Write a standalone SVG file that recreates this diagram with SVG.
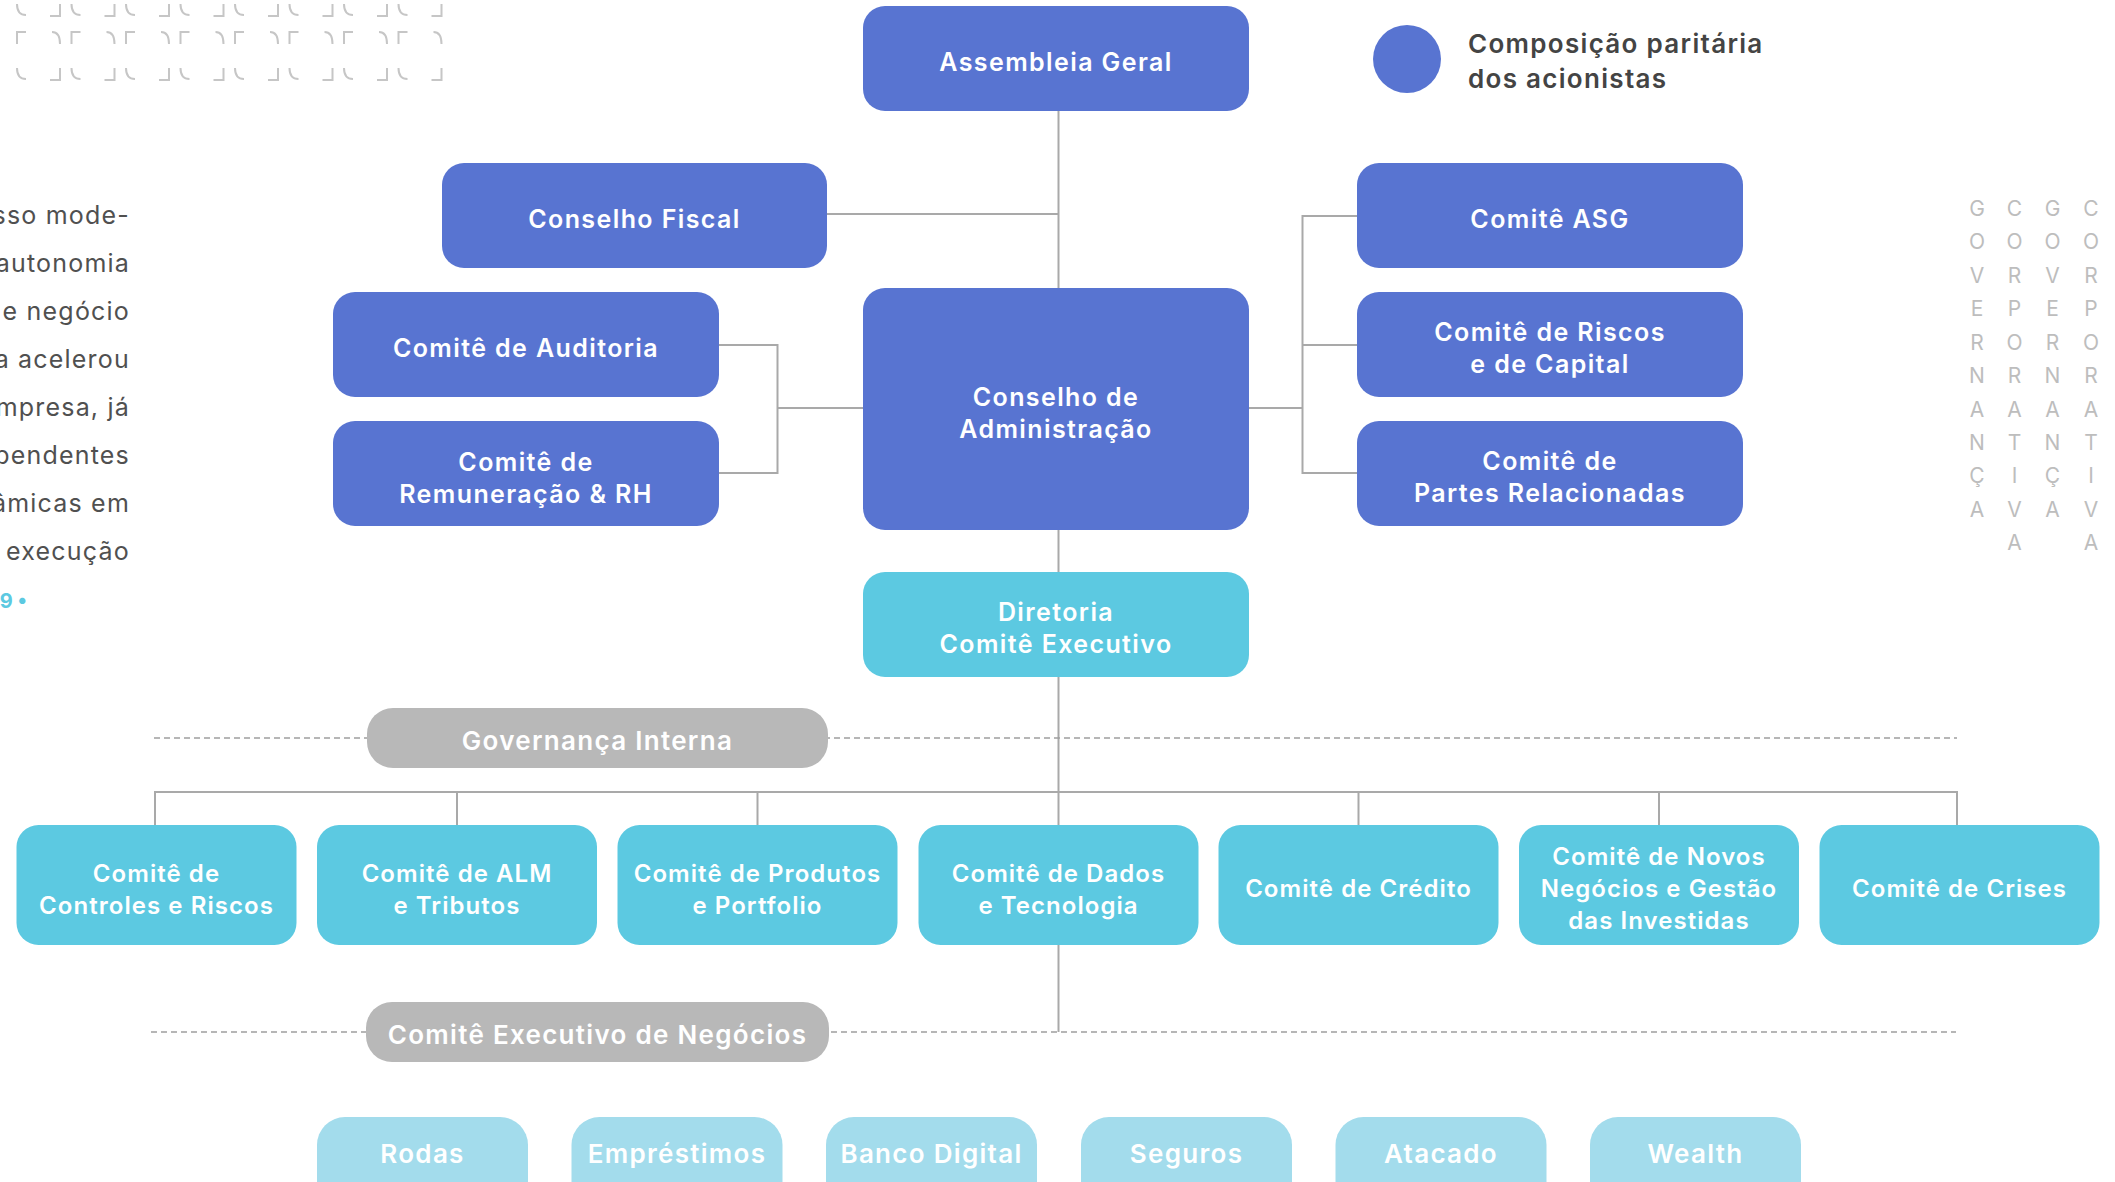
<svg xmlns="http://www.w3.org/2000/svg" xmlns:xlink="http://www.w3.org/1999/xlink" width="2115" height="1182" viewBox="0 0 2115 1182">
<style>
.bx{fill:#5874D1}
.tl{fill:#5CC9E1}
.lt{fill:#A3DCEC}
.gp{fill:#B8B8B8}
.t{font-family:Inter,"Open Sans","Liberation Sans",sans-serif;font-weight:600;fill:#FFFFFF;text-anchor:middle;font-size:25px;letter-spacing:1.4px}
.t2{font-family:Inter,"Open Sans","Liberation Sans",sans-serif;font-weight:600;fill:#FFFFFF;text-anchor:middle;font-size:24px;letter-spacing:1.05px}
.t3{font-family:Inter,"Open Sans","Liberation Sans",sans-serif;font-weight:600;fill:#FFFFFF;text-anchor:middle;font-size:26px;letter-spacing:1.3px}
.leg{font-family:Inter,"Open Sans","Liberation Sans",sans-serif;font-weight:600;fill:#444444;font-size:26px;letter-spacing:1.3px}
.body{font-family:Inter,"Open Sans","Liberation Sans",sans-serif;font-weight:400;fill:#505050;font-size:25px;text-anchor:end;letter-spacing:1.2px}
.vl{font-family:Inter,"Open Sans","Liberation Sans",sans-serif;font-weight:400;fill:#BDBDBD;font-size:21px;text-anchor:middle}
.ln{fill:none;stroke:#A9A9A9;stroke-width:2}
.ds{fill:none;stroke:#9E9E9E;stroke-width:1.6;stroke-dasharray:6 4}
.pt{fill:none;stroke:#C6C6C6;stroke-width:2}
</style>
<defs>
<g id="unit">
<path class="pt" d="M0,4 Q0,15 9,15"/>
<path class="pt" d="M33,16 H43 V4"/>
<path class="pt" d="M0,44 V32 H9"/>
<path class="pt" d="M35,32 Q43,32 43,44"/>
<path class="pt" d="M0,68 Q0,79 9,79"/>
<path class="pt" d="M33,80 H43 V68"/>
</g>
</defs>
<rect x="0" y="0" width="2115" height="1182" fill="#FFFFFF"/>

<g id="pattern">
<use xlink:href="#unit" href="#unit" x="17" y="0"/>
<use xlink:href="#unit" href="#unit" x="71.5" y="0"/>
<use xlink:href="#unit" href="#unit" x="126" y="0"/>
<use xlink:href="#unit" href="#unit" x="180.5" y="0"/>
<use xlink:href="#unit" href="#unit" x="235" y="0"/>
<use xlink:href="#unit" href="#unit" x="289.5" y="0"/>
<use xlink:href="#unit" href="#unit" x="344" y="0"/>
<use xlink:href="#unit" href="#unit" x="398.5" y="0"/>
</g>

<g id="body-text">
<text class="body" x="130" y="224">sso mode-</text>
<text class="body" x="130" y="272">autonomia</text>
<text class="body" x="130" y="320">e negócio</text>
<text class="body" x="130" y="368">a acelerou</text>
<text class="body" x="130" y="416">mpresa, já</text>
<text class="body" x="130" y="464">pendentes</text>
<text class="body" x="130" y="512">âmicas em</text>
<text class="body" x="130" y="560">execução</text>
<text x="27" y="608" style="font-family:Inter,'Liberation Sans',sans-serif;font-weight:700;font-size:20px;fill:#5CC9E1;text-anchor:end">9 •</text>
</g>

<g id="vertical-text">
<text class="vl" x="1977" y="216">G</text><text class="vl" x="1977" y="249">O</text><text class="vl" x="1977" y="283">V</text><text class="vl" x="1977" y="316">E</text><text class="vl" x="1977" y="350">R</text><text class="vl" x="1977" y="383">N</text><text class="vl" x="1977" y="417">A</text><text class="vl" x="1977" y="450">N</text><text class="vl" x="1977" y="483">Ç</text><text class="vl" x="1977" y="517">A</text>
<text class="vl" x="2014.5" y="216">C</text><text class="vl" x="2014.5" y="249">O</text><text class="vl" x="2014.5" y="283">R</text><text class="vl" x="2014.5" y="316">P</text><text class="vl" x="2014.5" y="350">O</text><text class="vl" x="2014.5" y="383">R</text><text class="vl" x="2014.5" y="417">A</text><text class="vl" x="2014.5" y="450">T</text><text class="vl" x="2014.5" y="483">I</text><text class="vl" x="2014.5" y="517">V</text><text class="vl" x="2014.5" y="550">A</text>
<text class="vl" x="2052.5" y="216">G</text><text class="vl" x="2052.5" y="249">O</text><text class="vl" x="2052.5" y="283">V</text><text class="vl" x="2052.5" y="316">E</text><text class="vl" x="2052.5" y="350">R</text><text class="vl" x="2052.5" y="383">N</text><text class="vl" x="2052.5" y="417">A</text><text class="vl" x="2052.5" y="450">N</text><text class="vl" x="2052.5" y="483">Ç</text><text class="vl" x="2052.5" y="517">A</text>
<text class="vl" x="2091" y="216">C</text><text class="vl" x="2091" y="249">O</text><text class="vl" x="2091" y="283">R</text><text class="vl" x="2091" y="316">P</text><text class="vl" x="2091" y="350">O</text><text class="vl" x="2091" y="383">R</text><text class="vl" x="2091" y="417">A</text><text class="vl" x="2091" y="450">T</text><text class="vl" x="2091" y="483">I</text><text class="vl" x="2091" y="517">V</text><text class="vl" x="2091" y="550">A</text>
</g>

<g id="legend">
<circle cx="1407" cy="59" r="34" fill="#5874D1"/>
<text class="leg" x="1468" y="53">Composição paritária</text>
<text class="leg" x="1468" y="88">dos acionistas</text>
</g>

<g id="connectors">
<path class="ln" d="M1058.5,111 V1032"/>
<path class="ln" d="M827,214 H1058.5"/>
<path class="ln" d="M719,345 H777.5 V473 H719 M777.5,408 H863"/>
<path class="ln" d="M1249,408 H1302.5 M1357,216 H1302.5 V473 H1357 M1302.5,345 H1357"/>
<path class="ln" d="M155,825 V792 H1957 V825 M457,792 V825 M757.5,792 V825 M1358.5,792 V825 M1659,792 V825"/>
<path class="ds" d="M154,738 H1957"/>
<path class="ds" d="M151,1032 H1956"/>
</g>

<g id="n-assembleia"><rect class="bx" x="863" y="6" width="386" height="105" rx="22"/><text class="t" x="1056" y="70.5">Assembleia Geral</text></g>
<g id="n-fiscal"><rect class="bx" x="442" y="163" width="385" height="105" rx="22"/><text class="t" x="634.5" y="227.5">Conselho Fiscal</text></g>
<g id="n-auditoria"><rect class="bx" x="333" y="292" width="386" height="105" rx="22"/><text class="t" x="526" y="356.5">Comitê de Auditoria</text></g>
<g id="n-remuneracao"><rect class="bx" x="333" y="421" width="386" height="105" rx="22"/><text class="t" x="526" y="470.5">Comitê de</text><text class="t" x="526" y="502.5">Remuneração &amp; RH</text></g>
<g id="n-conselho-adm"><rect class="bx" x="863" y="288" width="386" height="242" rx="22"/><text class="t" x="1056" y="405.5">Conselho de</text><text class="t" x="1056" y="437.5">Administração</text></g>
<g id="n-asg"><rect class="bx" x="1357" y="163" width="386" height="105" rx="22"/><text class="t" x="1550" y="227.5">Comitê ASG</text></g>
<g id="n-riscos"><rect class="bx" x="1357" y="292" width="386" height="105" rx="22"/><text class="t" x="1550" y="341">Comitê de Riscos</text><text class="t" x="1550" y="373">e de Capital</text></g>
<g id="n-partes"><rect class="bx" x="1357" y="421" width="386" height="105" rx="22"/><text class="t" x="1550" y="470">Comitê de</text><text class="t" x="1550" y="502">Partes Relacionadas</text></g>
<g id="n-diretoria"><rect class="tl" x="863" y="572" width="386" height="105" rx="22"/><text class="t" x="1056" y="621">Diretoria</text><text class="t" x="1056" y="653">Comitê Executivo</text></g>

<g id="n-gov-interna"><rect class="gp" x="367" y="708" width="461" height="60" rx="26"/><text class="t3" x="597.5" y="750">Governança Interna</text></g>
<g id="n-cen"><rect class="gp" x="366" y="1002" width="463" height="60" rx="26"/><text class="t3" x="597.5" y="1044">Comitê Executivo de Negócios</text></g>

<g id="n-controles"><rect class="tl" x="16.5" y="825" width="280" height="120" rx="22"/><text class="t2" x="156.5" y="881.5">Comitê de</text><text class="t2" x="156.5" y="913.5">Controles e Riscos</text></g>
<g id="n-alm"><rect class="tl" x="317" y="825" width="280" height="120" rx="22"/><text class="t2" x="457" y="881.5">Comitê de ALM</text><text class="t2" x="457" y="913.5">e Tributos</text></g>
<g id="n-produtos"><rect class="tl" x="617.5" y="825" width="280" height="120" rx="22"/><text class="t2" x="757.5" y="881.5">Comitê de Produtos</text><text class="t2" x="757.5" y="913.5">e Portfolio</text></g>
<g id="n-dados"><rect class="tl" x="918.5" y="825" width="280" height="120" rx="22"/><text class="t2" x="1058.5" y="881.5">Comitê de Dados</text><text class="t2" x="1058.5" y="913.5">e Tecnologia</text></g>
<g id="n-credito"><rect class="tl" x="1218.5" y="825" width="280" height="120" rx="22"/><text class="t2" x="1358.5" y="897">Comitê de Crédito</text></g>
<g id="n-novos"><rect class="tl" x="1519" y="825" width="280" height="120" rx="22"/><text class="t2" x="1659" y="865">Comitê de Novos</text><text class="t2" x="1659" y="897">Negócios e Gestão</text><text class="t2" x="1659" y="929">das Investidas</text></g>
<g id="n-crises"><rect class="tl" x="1819.5" y="825" width="280" height="120" rx="22"/><text class="t2" x="1959.5" y="897">Comitê de Crises</text></g>

<g id="n-rodas"><rect class="lt" x="317" y="1117" width="211" height="100" rx="28"/><text class="t3" x="422.5" y="1163">Rodas</text></g>
<g id="n-emprestimos"><rect class="lt" x="571.5" y="1117" width="211" height="100" rx="28"/><text class="t3" x="677" y="1163">Empréstimos</text></g>
<g id="n-banco"><rect class="lt" x="826" y="1117" width="211" height="100" rx="28"/><text class="t3" x="931.5" y="1163">Banco Digital</text></g>
<g id="n-seguros"><rect class="lt" x="1081" y="1117" width="211" height="100" rx="28"/><text class="t3" x="1186.5" y="1163">Seguros</text></g>
<g id="n-atacado"><rect class="lt" x="1335.5" y="1117" width="211" height="100" rx="28"/><text class="t3" x="1441" y="1163">Atacado</text></g>
<g id="n-wealth"><rect class="lt" x="1590" y="1117" width="211" height="100" rx="28"/><text class="t3" x="1695.5" y="1163">Wealth</text></g>
</svg>
